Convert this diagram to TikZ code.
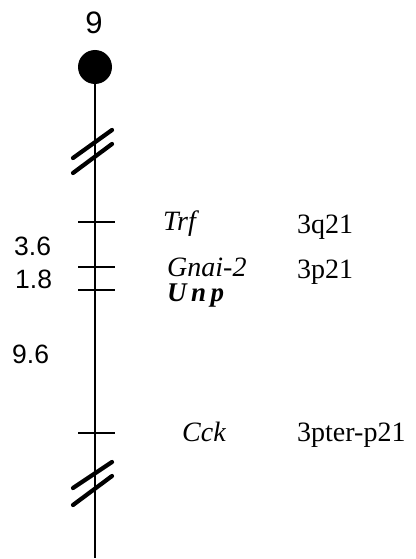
\documentclass[tikz,border=0pt]{standalone}
\usepackage{fontspec}
\setmainfont{Liberation Serif}
\newfontfamily\numfont{Liberation Sans}
\begin{document}
\begin{tikzpicture}[x=1pt,y=-1pt,
    axis/.style={line width=2.6pt},
    tick/.style={line width=2.6pt},
    breakmark/.style={line width=4.2pt,line cap=round},
    dist/.style={font=\numfont\fontsize{26.5}{26.5}\selectfont,inner sep=0pt,anchor=base west},
    gene/.style={font=\fontsize{28}{28}\selectfont\itshape,inner sep=0pt,anchor=base west},
    band/.style={font=\fontsize{28}{28}\selectfont,inner sep=0pt,anchor=base west}]
  \useasboundingbox (0,0) rectangle (415,559);
  % centromere and chromosome number
  \node[circle,fill=black,minimum size=34pt,inner sep=0pt] (cen) at (95,67) {};
  \node[font=\numfont\fontsize{31}{31}\selectfont,inner sep=0pt] (chr) at (94,23) {9};
  \coordinate (tel) at (95,558);
  \draw[axis] (cen.center) -- (tel);
  % breaks in the map
  \draw[breakmark] (73,158) -- (112,130);
  \draw[breakmark] (73,173) -- (112,144);
  \draw[breakmark] (73,488) -- (112,462);
  \draw[breakmark] (73,505) -- (112,476);
  % marker ticks
  \foreach \y/\n in {222/trf,267/gna,290/unp,433/cck}{
    \coordinate (\n L) at (78,\y);
    \coordinate (\n R) at (115,\y);
    \draw[tick] (\n L) -- (\n R);
  }
  % distances (cM)
  \node[dist] (d1) at (14,255) {3.6};
  \node[dist] (d2) at (15,288) {1.8};
  \node[dist] (d3) at (12,363) {9.6};
  % gene symbols
  \node[gene] (g1) at (163,230) {Trf};
  \node[gene] (g2) at (167,276) {Gnai-2};
  \node[gene,font=\fontsize{27}{27}\selectfont\bfseries\itshape] (g3) at (167,301) {U\,n\,p};
  \node[gene] (g4) at (182,441) {Cck};
  % human chromosome bands
  \node[band] (b1) at (297,233) {3q21};
  \node[band] (b2) at (297,278) {3p21};
  \node[band] (b4) at (297,441) {3pter-p21};
\end{tikzpicture}
\end{document}
